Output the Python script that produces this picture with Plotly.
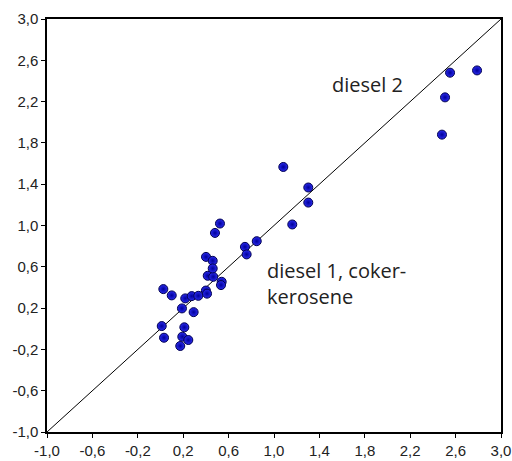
import plotly.graph_objects as go

x_vals = [0.025, 0.099, 0.218, 0.275, 0.333, 0.40, 0.41, 0.416, 0.465, 0.539, 0.533,
          0.189, 0.292, 0.011, 0.031, 0.210, 0.192, 0.245, 0.174,
          0.524, 0.480, 0.401, 0.460, 0.460, 0.744, 0.759, 0.848,
          1.082, 1.302, 1.302, 1.161,
          2.551, 2.789, 2.507, 2.480]
y_vals = [0.384, 0.323, 0.294, 0.316, 0.319, 0.37, 0.34, 0.513, 0.503, 0.455, 0.423,
          0.197, 0.161, 0.026, -0.087, 0.014, -0.077, -0.109, -0.167,
          1.019, 0.928, 0.696, 0.658, 0.584, 0.793, 0.720, 0.848,
          1.567, 1.368, 1.222, 1.010,
          2.480, 2.502, 2.241, 1.880]
diag = [-1.0, 3.0]
tick_vals = [-1.0, -0.6, -0.2, 0.2, 0.6, 1.0, 1.4, 1.8, 2.2, 2.6, 3.0]
tick_text = ["-1,0", "-0,6", "-0,2", "0,2", "0,6", "1,0", "1,4", "1,8", "2,2", "2,6", "3,0"]
labels = ["diesel 2", "diesel 1, coker-<br>kerosene"]
label_x = [1.82, 0.92]
label_y = [2.37, 0.44]

fig = go.Figure()
fig.add_trace(go.Scatter(x=diag, y=diag, mode="lines",
                         line=dict(color="black", width=1), hoverinfo="skip"))
fig.add_trace(go.Scatter(x=x_vals, y=y_vals, mode="markers",
                         marker=dict(size=9, color="#2a2aee",
                                     gradient=dict(type="radial", color="#00009a"),
                                     line=dict(color="#000050", width=1))))

fig.add_annotation(x=label_x[0], y=label_y[0], text=labels[0], showarrow=False,
                   xanchor="center", yanchor="middle",
                   font=dict(family="Open Sans", size=20, color="#222"))
fig.add_annotation(x=label_x[1], y=label_y[1], text=labels[1], showarrow=False,
                   xanchor="left", yanchor="middle", align="left",
                   font=dict(family="Open Sans", size=20, color="#222"))

axis_common = dict(range=[-1, 3], tickvals=tick_vals, ticktext=tick_text,
                   showgrid=False, zeroline=False, showline=True, linecolor="black",
                   linewidth=1.5, mirror=True, ticks="outside", ticklen=4,
                   tickcolor="black", automargin=False,
                   tickfont=dict(family="Liberation Sans", size=15, color="#222"))
fig.update_layout(
    width=512, height=461, showlegend=False,
    plot_bgcolor="white", paper_bgcolor="white",
    margin=dict(l=47, r=11, t=19, b=29),
    xaxis=axis_common, yaxis=axis_common,
)
fig.write_html("out.html")
